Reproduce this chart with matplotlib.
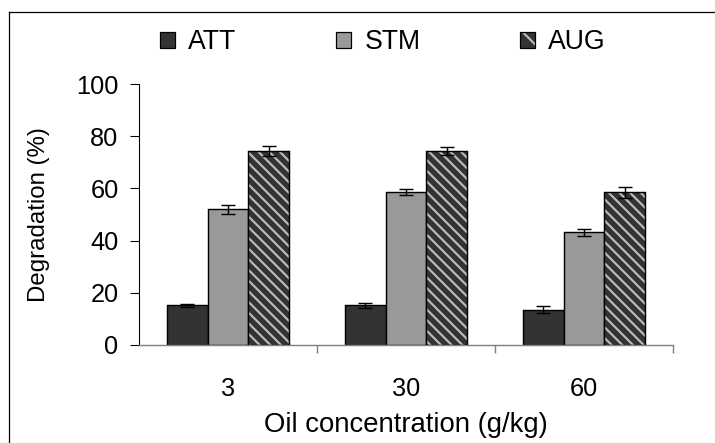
import numpy as np
import matplotlib
matplotlib.use('Agg')
import matplotlib.pyplot as plt
from matplotlib.patches import Patch
from matplotlib.lines import Line2D
from matplotlib.legend_handler import HandlerTuple

# data
concentrations = ['3', '30', '60']
series_names = ['ATT', 'STM', 'AUG']
att_values = [15.2, 15.2, 13.5]
stm_values = [52.0, 58.5, 43.2]
aug_values = [74.3, 74.3, 58.5]
att_errors = [0.6, 1.0, 1.3]
stm_errors = [1.7, 1.1, 1.4]
aug_errors = [1.9, 1.6, 2.0]

DPI = 64
plt.rcParams['font.family'] = ['Liberation Sans', 'DejaVu Sans']
plt.rcParams['hatch.linewidth'] = 2.4

fig = plt.figure(figsize=(715 / DPI, 443 / DPI), dpi=DPI)
ax = fig.add_axes([139 / 715, 1 - 345 / 443, 534 / 715, 261 / 443])

x = np.arange(len(concentrations))
w = 0.228
err_kw = dict(ecolor='black', elinewidth=1.6, capthick=1.6)

ax.bar(x - w, att_values, w, color='#333333', edgecolor='black', linewidth=1.6,
       yerr=att_errors, capsize=8, error_kw=err_kw, zorder=2)
ax.bar(x, stm_values, w, color='#999999', edgecolor='black', linewidth=1.6,
       yerr=stm_errors, capsize=8, error_kw=err_kw, zorder=2)
# hatched layer (hatch takes its colour from edgecolor), then black outline on top
ax.bar(x + w, aug_values, w, color='#333333', edgecolor='#bdbdbd', linewidth=0,
       hatch='\\\\', zorder=2)
ax.bar(x + w, aug_values, w, fill=False, edgecolor='black', linewidth=1.6,
       yerr=aug_errors, capsize=8, error_kw=err_kw, zorder=3)

ax.set_xlim(-0.5, 2.5)
ax.set_ylim(0, 100)
ax.set_yticks([0, 20, 40, 60, 80, 100])
ax.set_xticks(x)
ax.set_xticklabels(concentrations)
ax.set_xticks([0.5, 1.5, 2.5], minor=True)

for side in ['top', 'right']:
    ax.spines[side].set_visible(False)
ax.spines['left'].set_color('black')
ax.spines['left'].set_linewidth(1.2)
ax.spines['bottom'].set_color('#808080')
ax.spines['bottom'].set_linewidth(1.6)

ax.tick_params(axis='y', direction='out', length=10, width=1.2, color='black',
               labelsize=28.5, pad=13)
ax.tick_params(axis='x', which='major', length=0, labelsize=28.5, pad=36)
ax.tick_params(axis='x', which='minor', direction='out', length=9, width=1.6,
               color='#808080')

ax.set_ylabel('Degradation (%)', fontsize=27)
ax.set_xlabel('Oil concentration (g/kg)', fontsize=31)
ax.yaxis.set_label_coords(-0.166, 0.5)
ax.xaxis.set_label_coords(0.5, -0.256)

# legend
h_att = Patch(facecolor='#333333', edgecolor='black', linewidth=1.4)
h_stm = Patch(facecolor='#999999', edgecolor='black', linewidth=1.4)
h_aug = (Patch(facecolor='#333333', edgecolor='#bdbdbd', linewidth=0, hatch='\\'),
         Patch(fill=False, edgecolor='black', linewidth=1.4))
fig.legend([h_att, h_stm, h_aug], series_names, loc='center',
           bbox_to_anchor=(383 / 715, 1 - 42 / 443), ncol=3, frameon=False,
           fontsize=30, handlelength=0.55, handleheight=0.55, handletextpad=0.5,
           columnspacing=3.75, handler_map={tuple: HandlerTuple(ndivide=1)})

# outer frame (only left and top edges show in the reference)
fig.add_artist(Line2D([8.5 / 715, 8.5 / 715], [0, 1 - 11.5 / 443],
                      transform=fig.transFigure, color='black', linewidth=1.4))
fig.add_artist(Line2D([8.5 / 715, 1], [1 - 11.5 / 443, 1 - 11.5 / 443],
                      transform=fig.transFigure, color='black', linewidth=1.4))

fig.savefig('out.png', dpi=DPI)
plt.close(fig)
